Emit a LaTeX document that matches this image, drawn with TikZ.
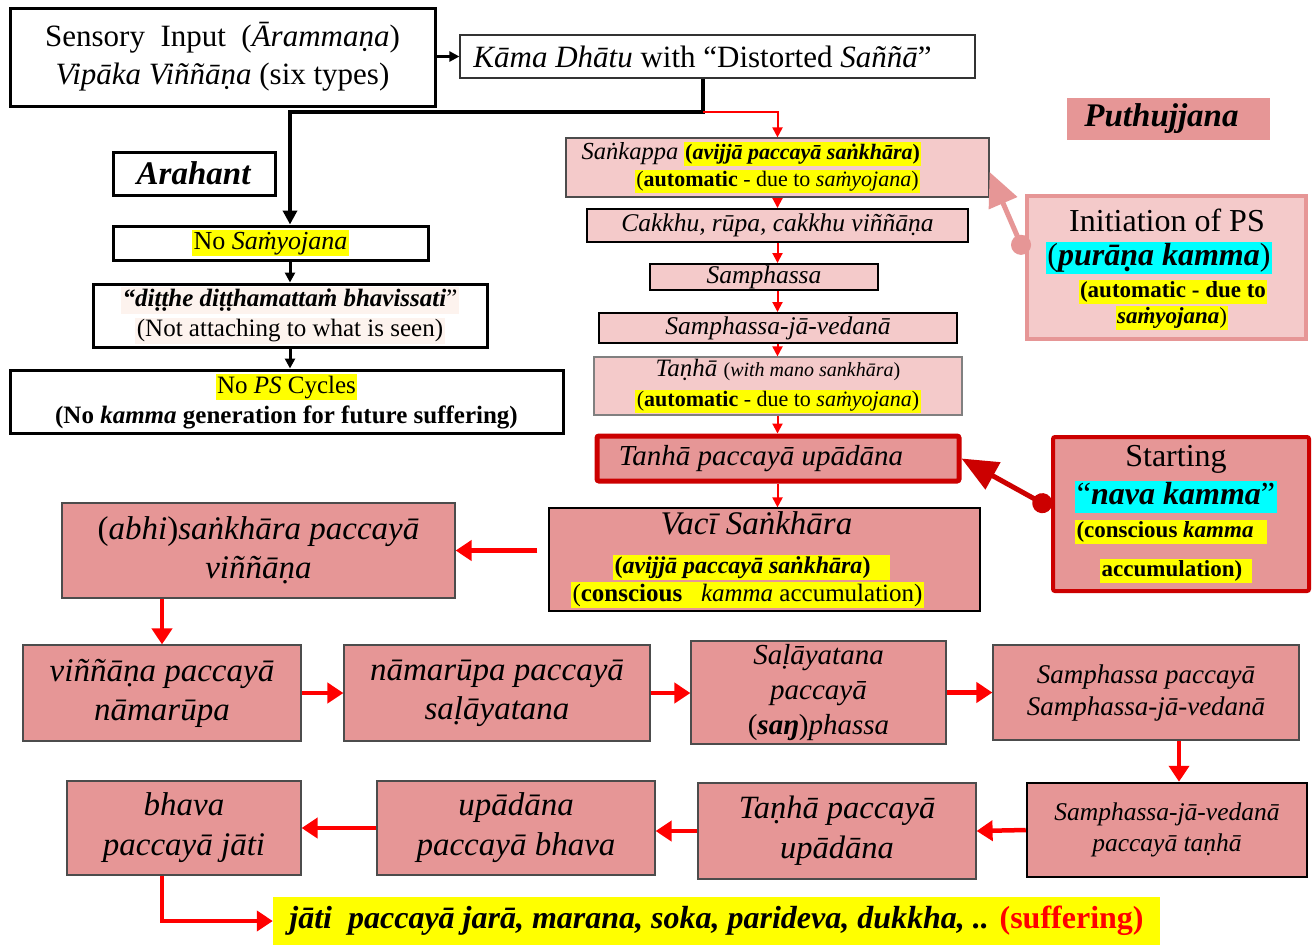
\documentclass[tikz,border=0pt]{standalone}
\usepackage{fontspec}
\setmainfont{Liberation Serif}
\usetikzlibrary{arrows.meta}
\definecolor{pinkL}{HTML}{F4CACA}
\definecolor{pinkD}{HTML}{E69696}
\definecolor{dred}{HTML}{CC0000}
\definecolor{hly}{HTML}{FFFF00}
\definecolor{hlc}{HTML}{00FFFF}
\definecolor{hlp}{HTML}{FDF3EE}
\newcommand{\myhlY}[1]{{\setlength{\fboxsep}{1.5pt}\colorbox{hly}{\vphantom{(Ay}#1}}}
\newcommand{\myhlC}[1]{{\setlength{\fboxsep}{1.5pt}\colorbox{hlc}{\vphantom{(Ay}#1}}}
\newcommand{\myhlP}[1]{{\setlength{\fboxsep}{1.5pt}\colorbox{hlp}{\vphantom{(Ay}#1}}}
\newcommand{\myfz}[2]{\fontsize{#1}{#2}\selectfont}
\newcommand{\mybi}[1]{\textbf{\textit{#1}}}
\newcommand{\mysh}[1]{\rule{#1}{0pt}}
\newcommand{\mybx}[7][]{\node[#1, minimum width={(#5-#3)*1pt}, minimum height={(#6-#4)*1pt}, text width={(#5-#3-4)*1pt}] (#2) at ({(#3+#5)/2},{(#4+#6)/2}) {#7};}
\tikzset{
 bb/.style={draw=black, line width=3pt, inner sep=0pt, align=flush center},
 tb/.style={draw=black!80, line width=1.2pt, inner sep=0pt, align=flush center},
 pl/.style={fill=pinkL, draw=black!70, line width=1.2pt, inner sep=0pt, align=flush center},
 pd/.style={fill=pinkD, draw=black!70, line width=1.2pt, inner sep=0pt, align=flush center},
 tx/.style={inner sep=0pt},
 ra/.style={draw=red, line width=2pt, -{Triangle[length=10pt,width=10pt]}},
 rA/.style={draw=red, line width=4.5pt, -{Triangle[length=16pt,width=20pt]}},
 ba/.style={draw=black, line width=3.5pt, -{Triangle[length=14pt,width=14pt]}},
 bs/.style={draw=black, line width=3pt, -{Triangle[length=10pt,width=10pt]}},
}
\begin{document}
\begin{tikzpicture}[x=1pt,y=-1pt]
\fill[white] (0,0) rectangle (1314,946);
\useasboundingbox (0,0) rectangle (1314,946);

% left / top
\mybx[bb, font=\myfz{31}{38}]{sens}{10}{8}{435}{106}{Sensory\ \ Input\ \ (\textit{Ārammaṇa})\\ \textit{Vipāka Viññāṇa} (six types)}
\mybx[tb, font=\myfz{31}{34}]{kama}{460}{35}{975}{78}{\textit{Kāma Dhātu} with “Distorted \textit{Saññā}”\mysh{30pt}}
\mybx[fill=pinkD, inner sep=0pt, align=flush center, font=\myfz{33}{36}]{puth}{1067}{98}{1270}{140}{\mybi{Puthujjana}\mysh{14pt}}
\mybx[bb, font=\myfz{33}{36}]{arh}{113}{152}{275}{195}{\mybi{Arahant}}
\mybx[bb, font=\myfz{26}{30}]{nosam}{113}{226}{428}{260}{\myhlY{No \textit{Saṁyojana}}}
\mybx[bb, font=\myfz{25}{30}]{ditthe}{93}{284}{487}{347}{\myhlP{\mybi{“diṭṭhe diṭṭhamattaṁ bhavissati}”}\\ \myhlP{(Not attaching to what is seen)}}
\mybx[bb, font=\myfz{25}{30}]{nops}{10}{370}{563}{433}{\myhlY{No \textit{PS} Cycles}\\ \textbf{(No \textit{kamma} generation for future suffering)}}

% right column
\mybx[pl, font=\myfz{22}{27}]{sank}{566}{138}{989}{197}{{\myfz{24.5}{27}\textit{Saṅkappa}} \myhlY{\textbf{(\textit{avijjā paccayā saṅkhāra})}}\mysh{52pt}\\ \myhlY{(\textbf{automatic} - due to \textit{saṁyojana})}}
\mybx[pl, draw=black, line width=2pt, font=\myfz{25.5}{28}]{cak}{587}{209}{968}{242}{\textit{Cakkhu, rūpa, cakkhu viññāṇa}}
\mybx[pl, draw=black, line width=2pt, font=\myfz{25.5}{28}]{samph}{650}{264}{878}{290}{\textit{Samphassa}}
\mybx[pl, draw=black, line width=2pt, font=\myfz{25.5}{28}]{sjv}{599}{313}{957}{343}{\textit{Samphassa-jā-vedanā}}
\mybx[pl, draw=black!50, font=\myfz{25}{30}]{tanha}{594}{357}{962}{415}{\textit{Taṇhā} {\myfz{20}{24}(\textit{with mano sankhāra})}\\ {\myfz{22}{26}\myhlY{(\textbf{automatic} - due to \textit{saṁyojana})}}}
\mybx[pd, draw=dred, line width=5pt, rounded corners=2pt, font=\myfz{29}{32}]{tpu}{597}{436}{959}{481}{\textit{Tanhā paccayā upādāna}\mysh{34pt}}
\mybx[pd, draw=black, font=\myfz{33}{39}]{vaci}{549}{508}{980}{611}{\textit{Vacī Saṅkhāra}\mysh{16pt}\\ {\myfz{24}{28}\myhlY{\textbf{(\textit{avijjā paccayā saṅkhāra})}\mysh{18pt}}\mysh{26pt}}\\[-11pt] {\myfz{25}{28}\myhlY{(\textbf{conscious}\ \ \ \textit{kamma} accumulation)}\mysh{34pt}}}

% initiation box
\mybx[pl, draw=pinkD, line width=4pt]{init}{1027}{196}{1306}{339}{}
\node[tx, font=\myfz{32}{36}] (i1) at (1167,220) {Initiation of PS};
\node[tx, font=\myfz{32}{36}] (i2) at (1159,258) {\myhlC{(\mybi{purāṇa kamma})}};
\node[tx, font=\myfz{23}{26}] (i3) at (1173,292) {\myhlY{\textbf{(automatic - due to}}};
\node[tx, font=\myfz{23}{26}] (i4) at (1172,318) {\myhlY{\mybi{saṁyojana})}};

% starting box
\mybx[pd, draw=dred, line width=4pt, rounded corners=2pt]{start}{1053}{437}{1309}{591}{}
\node[tx, font=\myfz{32}{36}] (s1) at (1176,459) {Starting};
\node[tx, font=\myfz{32}{36}] (s2) at (1176,497) {\myhlC{“\mybi{nava kamma}”}};
\node[tx, font=\myfz{23}{26}] (s3) at (1171,532) {\myhlY{\textbf{(conscious \textit{kamma}}\mysh{12pt}}};
\node[tx, font=\myfz{23}{26}] (s4) at (1176,571) {\myhlY{\textbf{accumulation)}\mysh{8pt}}};

% bottom cycle
\mybx[pd, font=\myfz{33}{39}]{abhi}{62}{503}{455}{598}{(\textit{abhi})\textit{saṅkhāra paccayā}\\ \textit{viññāṇa}}
\mybx[pd, font=\myfz{33}{39}]{vin}{23}{645}{301}{741}{\textit{viññāṇa paccayā}\\ \textit{nāmarūpa}}
\mybx[pd, font=\myfz{33}{39}]{nam}{344}{645}{650}{741}{\textit{nāmarūpa paccayā}\\ \textit{saḷāyatana}}
\mybx[pd, font=\myfz{29}{35}]{sal}{691}{641}{946}{744}{\textit{Saḷāyatana}\\ \textit{paccayā}\\ (\mybi{saŋ})\textit{phassa}}
\mybx[pd, font=\myfz{27}{32}]{sampv}{993}{645}{1299}{740}{\textit{Samphassa paccayā}\\ \textit{Samphassa-jā-vedanā}}
\mybx[pd, draw=black, line width=2.5pt, font=\myfz{25.5}{31}]{vedt}{1027}{783}{1307}{877}{\textit{Samphassa-jā-vedanā}\\ \textit{paccayā taṇhā}}
\mybx[pd, font=\myfz{32.5}{40}]{tanu}{698}{783}{976}{879}{\textit{Taṇhā paccayā}\\ \textit{upādāna}}
\mybx[pd, font=\myfz{33}{40}]{upab}{377}{781}{655}{875}{\textit{upādāna}\\ \textit{paccayā bhava}}
\mybx[pd, font=\myfz{33}{40}]{bhj}{67}{781}{301}{875}{\textit{bhava}\\ \textit{paccayā jāti}}
\mybx[fill=hly, inner sep=0pt, align=flush center, font=\myfz{32}{36}]{suf}{273}{897}{1160}{945}{\mybi{jāti\ \ paccayā jarā, marana, soka, parideva, dukkha, ..} \textbf{\textcolor{red}{(suffering)}}}

% connectors: top
\draw[bs] (sens.east |- kama.west) -- (kama.west);
\coordinate (jn) at (703,112);
\draw[ba] ([xshift=-14.5pt]kama.south) -- (jn) -| ([xshift=19.5pt]nosam.north);
\draw[ra] (jn) -| (sank.north);
\coordinate (ax) at (290,0);
\draw[bs] (nosam.south -| ax) -- (ditthe.north -| ax);
\draw[bs] (ditthe.south -| ax) -- (nops.north -| ax);

% right column red arrows
\draw[ra] (sank.south) -- (sank.south |- cak.north);
\draw[ra] (cak.south) -- (cak.south |- samph.north);
\draw[ra] (cak.south |- samph.south) -- (cak.south |- sjv.north);
\draw[ra] (cak.south |- sjv.south) -- (cak.south |- tanha.north);
\draw[ra] (cak.south |- tanha.south) -- (cak.south |- tpu.north);
\draw[ra] (cak.south |- tpu.south) -- (cak.south |- vaci.north);

% side connectors
\draw[draw=pinkD, line width=5pt, {Circle[length=20pt]}-{Triangle[length=34pt,width=30pt]}] ([yshift=13.5pt]init.west) -- ([yshift=-4.5pt]sank.east);
\draw[draw=dred, line width=5pt, {Circle[length=20pt]}-{Triangle[length=36pt,width=30pt]}] ([yshift=6pt]start.west) -- (tpu.east);

% cycle
\coordinate (vs) at ([xshift=-11pt]vaci.west);
\draw[rA] (vs |- abhi.east) -- (abhi.east);
\draw[rA] (abhi.south -| vin.north) -- (vin.north);
\draw[rA] (vin.east) -- (nam.west);
\draw[rA] (nam.east) -- (sal.west |- nam.east);
\draw[rA] (sal.east) -- (sampv.west |- sal.east);
\draw[rA] ([xshift=33pt]sampv.south) -- ([xshift=33pt]sampv.south |- vedt.north);
\draw[rA] (vedt.west) -- (tanu.east);
\draw[rA] (tanu.west) -- (upab.east |- tanu.west);
\draw[rA] (upab.west) -- (bhj.east);
\draw[rA] ([xshift=-22pt]bhj.south) |- (suf.west);
\end{tikzpicture}
\end{document}
